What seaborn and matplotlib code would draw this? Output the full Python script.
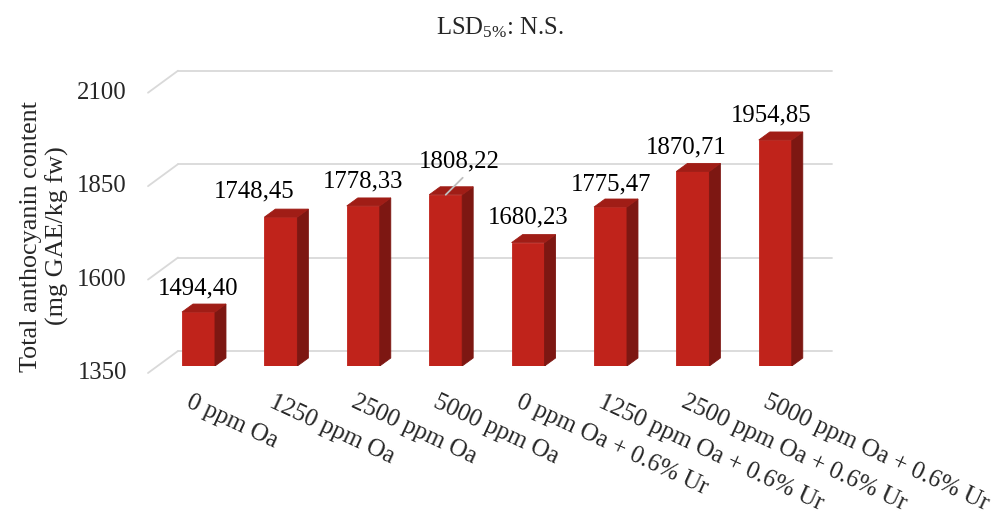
import matplotlib
matplotlib.use("Agg")
import matplotlib.pyplot as plt
from matplotlib.patches import Polygon
from matplotlib.lines import Line2D
import seaborn as sns
import pandas as pd

# ---- data -------------------------------------------------------------
treatments = [
    "0 ppm Oa",
    "1250 ppm Oa",
    "2500 ppm Oa",
    "5000 ppm Oa",
    "0 ppm Oa + 0.6% Ur",
    "1250 ppm Oa + 0.6% Ur",
    "2500 ppm Oa + 0.6% Ur",
    "5000 ppm Oa + 0.6% Ur",
]
anthocyanin = [1494.40, 1748.45, 1778.33, 1808.22, 1680.23, 1775.47, 1870.71, 1954.85]
value_labels = ["1494,40", "1748,45", "1778,33", "1808,22",
                "1680,23", "1775,47", "1870,71", "1954,85"]
y_ticks = [1350, 1600, 1850, 2100]
y_tick_labels = ["1350", "1600", "1850", "2100"]
title_text = r"LSD$_{\mathregular{5\%}}$: N.S."
y_label = "Total anthocyanin content\n(mg GAE/kg fw)"

df = pd.DataFrame({"treatment": treatments, "value": anthocyanin})

# ---- style ------------------------------------------------------------
sns.set_theme(style="white")
plt.rcParams["font.family"] = ["Liberation Serif", "DejaVu Serif"]
plt.rcParams["mathtext.fontset"] = "custom"
plt.rcParams["mathtext.rm"] = "Liberation Serif"
plt.rcParams["mathtext.it"] = "Liberation Serif:italic"

FRONT = "#C0231B"
SIDE = "#7D1712"
TOP = "#A01D16"
GRID = "#D9D9D9"
FS = 17.8

W, H = 1000, 521
fig = plt.figure(figsize=(W / 100, H / 100), dpi=100)
# axes spans the bar plane: baseline at the floor of the bars
ax_left, ax_right, ax_top, ax_bot = 140, 840, 50, 366
ax = fig.add_axes([ax_left / W, 1 - ax_bot / H,
                   (ax_right - ax_left) / W, (ax_bot - ax_top) / H])

x0_px, step_px = 198.5, 82.4          # first category centre, spacing
ppu = 0.3737                          # pixels per data unit (y)
ymin = 1350
ymax = ymin + (ax_bot - ax_top) / ppu
xmin = (ax_left - x0_px) / step_px
xmax = (ax_right - x0_px) / step_px


def dx(px):
    return px / step_px


def dy(px):
    return px / ppu


# ---- 3-D style grid: back wall lines with a slanted floor edge ---------
front_x, back_x, end_x = (148 - x0_px) / step_px, (178 - x0_px) / step_px, (832 - x0_px) / step_px
for v in y_ticks:
    yf = v - dy(7)
    yb = v + dy(15)
    ax.add_line(Line2D([front_x, back_x], [yf, yb], color=GRID, lw=1.3,
                       clip_on=False, zorder=1))
    ax.add_line(Line2D([back_x, end_x], [yb, yb], color=GRID, lw=1.3,
                       clip_on=False, zorder=1))

# ---- bars: front faces from seaborn ------------------------------------
bar_w = 0.4
sns.barplot(data=df, x="treatment", y="value", color=FRONT, width=bar_w,
            saturation=1, edgecolor=FRONT, linewidth=0.6, ax=ax, zorder=3)

depth_x, depth_y = dx(11), dy(8)
for i, v in enumerate(anthocyanin):
    r = i + bar_w / 2
    l = i - bar_w / 2
    side = Polygon([(r, ymin), (r + depth_x, ymin + depth_y),
                    (r + depth_x, v + depth_y), (r, v)],
                   closed=True, facecolor=SIDE, edgecolor=SIDE, lw=0.6,
                   zorder=3)
    top = Polygon([(l, v), (r, v), (r + depth_x, v + depth_y),
                   (l + depth_x, v + depth_y)],
                  closed=True, facecolor=TOP, edgecolor=TOP, lw=0.6,
                  zorder=3)
    ax.add_patch(side)
    ax.add_patch(top)

# ---- value labels -------------------------------------------------------
label_shift = [(0, 24), (-27, 26), (0, 24), (14, 33),
               (0, 25), (1, 23), (-7, 24), (-4, 25)]
for i, (v, txt) in enumerate(zip(anthocyanin, value_labels)):
    ox, oy = label_shift[i]
    ax.annotate(txt, xy=(i, v), xytext=(ox, oy), textcoords="offset pixels",
                ha="center", va="center", fontsize=FS, color="#000000",
                annotation_clip=False, zorder=5)
# leader line for the shifted label
ax.annotate("", xy=(3, anthocyanin[3]), xytext=(17, 17),
            textcoords="offset pixels",
            arrowprops=dict(arrowstyle="-", color="#BFBFBF", lw=1.3,
                            shrinkA=0, shrinkB=0),
            annotation_clip=False, zorder=5)

# ---- y tick labels at the front edge -----------------------------------
for v, t in zip(y_ticks, y_tick_labels):
    ax.annotate(t, xy=(front_x, v - dy(7)), xytext=(-21, 0),
                textcoords="offset pixels", ha="right", va="center",
                fontsize=FS, annotation_clip=False)

# ---- category labels ---------------------------------------------------
for i, t in enumerate(treatments):
    ax.annotate(t, xy=(i, ymin), xytext=(-6, -25), textcoords="offset pixels",
                ha="left", va="top", rotation=-25, rotation_mode="anchor",
                fontsize=FS, annotation_clip=False)

ax.set_xlim(xmin, xmax)
ax.set_ylim(ymin, ymax)
ax.set_xticks([])
ax.set_yticks([])
ax.set_xlabel("")
ax.set_ylabel(y_label, fontsize=18.8, linespacing=1.2)
ax.yaxis.set_label_coords((69 - ax_left) / (ax_right - ax_left),
                          (ax_bot - 236) / (ax_bot - ax_top))
sns.despine(ax=ax, left=True, bottom=True)
ax.patch.set_alpha(0)

fig.text(0.5, 1 - 28 / H, title_text, ha="center", va="center", fontsize=FS)

fig.savefig("out.png", dpi=100, facecolor="white")
